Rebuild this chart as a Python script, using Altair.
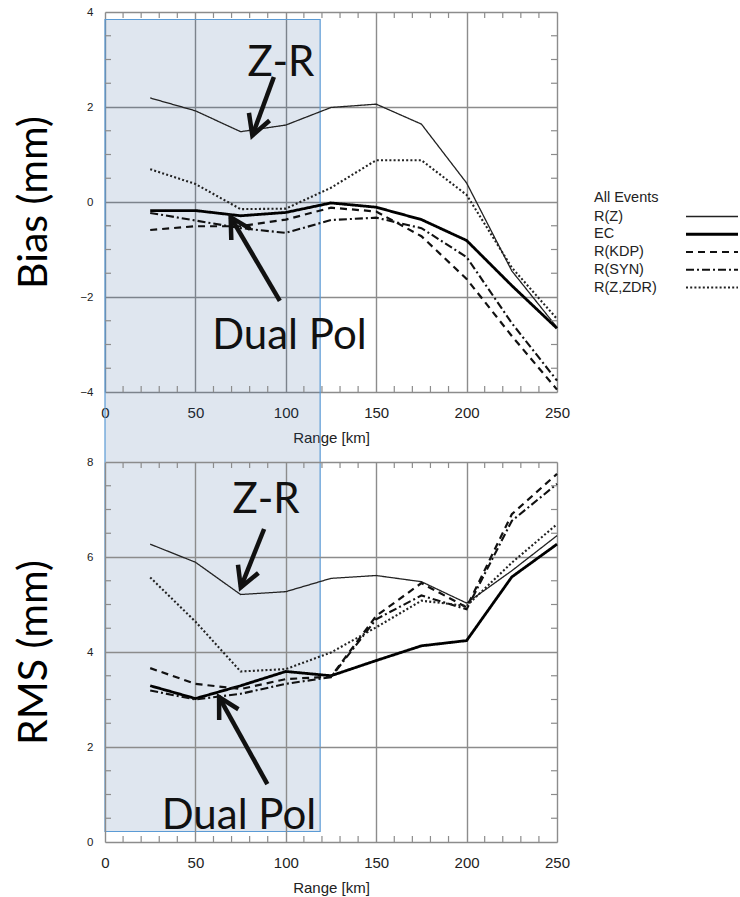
import math
import altair as alt
import pandas as pd

# ---------------- data ----------------
range_km = [25, 50, 75, 100, 125, 150, 175, 200, 225, 250]
series_names = ["R(Z)", "EC", "R(KDP)", "R(SYN)", "R(Z,ZDR)"]

bias_rz = [2.19, 1.92, 1.48, 1.62, 1.99, 2.06, 1.64, 0.40, -1.45, -2.64]
bias_ec = [-0.18, -0.18, -0.29, -0.22, -0.02, -0.11, -0.37, -0.81, -1.76, -2.66]
bias_kdp = [-0.59, -0.51, -0.51, -0.37, -0.12, -0.20, -0.72, -1.62, -2.82, -3.95]
bias_syn = [-0.23, -0.39, -0.55, -0.65, -0.38, -0.33, -0.55, -1.16, -2.55, -3.76]
bias_zdr = [0.69, 0.38, -0.15, -0.14, 0.30, 0.88, 0.88, 0.15, -1.38, -2.46]

rms_rz = [6.27, 5.89, 5.21, 5.27, 5.55, 5.61, 5.48, 5.03, 5.71, 6.45]
rms_ec = [3.29, 3.02, 3.29, 3.59, 3.50, 3.82, 4.13, 4.24, 5.58, 6.27]
rms_kdp = [3.66, 3.33, 3.22, 3.43, 3.48, 4.76, 5.45, 4.94, 6.90, 7.75]
rms_syn = [3.19, 3.00, 3.12, 3.33, 3.47, 4.69, 5.19, 4.90, 6.76, 7.54]
rms_zdr = [5.57, 4.64, 3.59, 3.64, 3.99, 4.52, 5.08, 4.97, 5.88, 6.69]

x_label_values = [0, 50, 100, 150, 200, 250]
x_minor_ticks = [10, 20, 30, 40, 60, 70, 80, 90, 110, 120, 130, 140,
                 160, 170, 180, 190, 210, 220, 230, 240]
bias_label_values = [-4, -2, 0, 2, 4]
bias_minor_ticks = [-3.5, -3, -2.5, -1.5, -1, -0.5, 0.5, 1, 1.5, 2.5, 3, 3.5]
rms_label_values = [0, 2, 4, 6, 8]
rms_minor_ticks = [0.5, 1, 1.5, 2.5, 3, 3.5, 4.5, 5, 5.5, 6.5, 7, 7.5]

shade_range_km = [0, 119]
legend_title = "All Events"

top_note_text = ["Z-R", "Dual Pol"]
top_note_x = [97.3, 102.0]
top_note_y = [2.65, -3.09]
top_arrow_x1 = [93.4, 96.7]
top_arrow_y1 = [2.63, -2.08]
top_arrow_x2 = [81.5, 69.5]
top_arrow_y2 = [1.40, -0.32]

bot_note_text = ["Z-R", "Dual Pol"]
bot_note_x = [89.1, 74.1]
bot_note_y = [6.93, 0.27]
bot_arrow_x1 = [88.0, 89.8]
bot_arrow_y1 = [6.59, 1.22]
bot_arrow_x2 = [75.1, 63.1]
bot_arrow_y2 = [5.36, 3.05]

# ---------------- styling ----------------
W, H = 452, 380
GRID = "#8c8c8c"
INK = "#111111"
ANNOT_FONT = "Lato"
TICK_FONT = "Liberation Sans"

dash_range = [[1, 0], [1, 0], [7, 5], [8, 3, 2, 3], [2, 2.2]]
width_range = [1.3, 2.8, 2.2, 2.1, 2.1]
color_range = ["#222222", "#000000", "#111111", "#111111", "#222222"]

color_scale = alt.Scale(domain=series_names, range=color_range)
dash_scale = alt.Scale(domain=series_names, range=dash_range)
width_scale = alt.Scale(type="ordinal", domain=series_names, range=width_range)


def long_frame(cols):
    rows = []
    for name, vals in zip(series_names, cols):
        for x, v in zip(range_km, vals):
            rows.append({"range": x, "value": v, "series": name})
    return pd.DataFrame(rows)


def arrowhead_angles(x1, y1, x2, y2, yspan):
    out = []
    for a, b, c, d in zip(x1, y1, x2, y2):
        dx = (c - a) * W / 250.0
        dy = -(d - b) * H / yspan
        out.append(math.degrees(math.atan2(dx, -dy)) % 360)
    return out


def style_enc():
    return dict(
        color=alt.Color("series:N", scale=color_scale, legend=None),
        strokeDash=alt.StrokeDash("series:N", scale=dash_scale, legend=None),
        strokeWidth=alt.StrokeWidth("series:O", scale=width_scale, legend=None),
    )


def legend_layer():
    leg = pd.DataFrame({"series": series_names})
    rows_y = alt.Y("series:N", sort=series_names,
                   scale=alt.Scale(type="point", domain=series_names,
                                   range=[204.5, 275.5], padding=0),
                   axis=None)
    labels = alt.Chart(leg).mark_text(
        font=TICK_FONT, fontSize=14.5, align="left", baseline="middle", color="#222"
    ).encode(x=alt.value(489), y=rows_y, text="series:N")
    samples = alt.Chart(leg).mark_rule(strokeCap="butt").encode(
        x=alt.value(581), x2=alt.value(633), y=rows_y, **style_enc())
    title = alt.Chart(pd.DataFrame({"t": [legend_title]})).mark_text(
        font=TICK_FONT, fontSize=14.5, align="left", baseline="middle", color="#222"
    ).encode(x=alt.value(489), y=alt.value(185.5), text="t:N")
    return alt.layer(title, labels, samples)


def panel(cols, ydom, yvals, yminor, ytitle, notes, arrows, with_extras):
    df = long_frame(cols)
    xs = alt.Scale(domain=[0, 250], nice=False, zero=False)
    ys = alt.Scale(domain=ydom, nice=False, zero=False)
    yspan = ydom[1] - ydom[0]

    lines = alt.Chart(df).mark_line(strokeCap="butt").encode(
        x=alt.X("range:Q", scale=xs,
                axis=alt.Axis(values=x_label_values, title="Range [km]", grid=True,
                              ticks=False, tickSize=0, domain=False,
                              labelFlush=False, labelOverlap=False,
                              labelFont=TICK_FONT, labelFontSize=15, labelColor="#222",
                              labelPadding=13, titleFont=TICK_FONT, titleFontSize=15,
                              titleFontWeight="normal", titleColor="#222",
                              titleBaseline="middle", titleY=45,
                              gridColor=GRID, gridWidth=1.4)),
        y=alt.Y("value:Q", scale=ys,
                axis=alt.Axis(values=yvals, title=ytitle, grid=True, ticks=False,
                              tickSize=0, domain=False, labelFlush=False,
                              labelOverlap=False, labelFont=TICK_FONT,
                              labelFontSize=11.5, labelColor="#222", labelPadding=12,
                              titleFont=ANNOT_FONT, titleFontSize=41,
                              titleFontWeight="normal", titleColor="#000",
                              titleX=-71, titleY=H / 2, titleBaseline="middle",
                              titleAngle=270, gridColor=GRID, gridWidth=1.4)),
        detail="series:N",
        **style_enc(),
    )

    xminor = pd.DataFrame({"t": x_minor_ticks})
    yminor_df = pd.DataFrame({"t": yminor})
    tick_col = "#8c8c8c"
    xt_top = alt.Chart(xminor).mark_rule(color=tick_col, strokeWidth=1.2).encode(
        x=alt.X("t:Q", scale=xs), y=alt.value(0), y2=alt.value(6))
    xt_bot = alt.Chart(xminor).mark_rule(color=tick_col, strokeWidth=1.2).encode(
        x=alt.X("t:Q", scale=xs), y=alt.value(H - 6), y2=alt.value(H))
    yt_left = alt.Chart(yminor_df).mark_rule(color=tick_col, strokeWidth=1.2).encode(
        y=alt.Y("t:Q", scale=ys), x=alt.value(0), x2=alt.value(6))
    yt_right = alt.Chart(yminor_df).mark_rule(color=tick_col, strokeWidth=1.2).encode(
        y=alt.Y("t:Q", scale=ys), x=alt.value(W - 6), x2=alt.value(W))

    ntext, nx, ny = notes
    notes_df = pd.DataFrame({"text": ntext, "x": nx, "y": ny})
    texts = alt.Chart(notes_df).mark_text(
        font=ANNOT_FONT, fontSize=42, baseline="alphabetic", align="center", color=INK
    ).encode(x=alt.X("x:Q", scale=xs), y=alt.Y("y:Q", scale=ys), text="text:N")

    ax1, ay1, ax2, ay2 = arrows
    arr_df = pd.DataFrame({"x1": ax1, "y1": ay1, "x2": ax2, "y2": ay2,
                           "angle": arrowhead_angles(ax1, ay1, ax2, ay2, yspan)})
    shafts = alt.Chart(arr_df).mark_rule(color=INK, strokeWidth=4.5).encode(
        x=alt.X("x1:Q", scale=xs), y=alt.Y("y1:Q", scale=ys),
        x2="x2:Q", y2="y2:Q")
    heads = alt.Chart(arr_df).mark_point(
        shape="M-0.55,1L0,0L0.55,1", size=1600, filled=False, color=INK,
        strokeWidth=4.5, opacity=1, strokeJoin="miter"
    ).encode(x=alt.X("x2:Q", scale=xs), y=alt.Y("y2:Q", scale=ys),
             angle=alt.Angle("angle:Q", scale=None))

    layers = [lines, xt_top, xt_bot, yt_left, yt_right, texts, shafts, heads]
    if with_extras:
        shade_df = pd.DataFrame({"a": [shade_range_km[0]], "b": [shade_range_km[1]]})
        shade = alt.Chart(shade_df).mark_rect(
            fill="#1f4e8c", fillOpacity=0.14, stroke="#5b9bd5", strokeWidth=1.2,
            clip=False
        ).encode(x=alt.X("a:Q", scale=xs), x2="b:Q",
                 y=alt.value(7.5), y2=alt.value(819.5))
        layers = [shade] + layers
    main = alt.layer(*layers)
    if with_extras:
        main = alt.layer(main, legend_layer()).resolve_scale(y="independent")
    return main.properties(width=W, height=H)


top = panel([bias_rz, bias_ec, bias_kdp, bias_syn, bias_zdr], [-4, 4],
            bias_label_values, bias_minor_ticks, "Bias (mm)",
            (top_note_text, top_note_x, top_note_y),
            (top_arrow_x1, top_arrow_y1, top_arrow_x2, top_arrow_y2), True)
bottom = panel([rms_rz, rms_ec, rms_kdp, rms_syn, rms_zdr], [0, 8],
               rms_label_values, rms_minor_ticks, "RMS (mm)",
               (bot_note_text, bot_note_x, bot_note_y),
               (bot_arrow_x1, bot_arrow_y1, bot_arrow_x2, bot_arrow_y2), False)

chart = alt.vconcat(top, bottom, spacing=70, bounds="flush").properties(
    padding={"left": 12, "top": 5, "right": 0, "bottom": 0}
).configure_view(
    stroke=GRID, strokeWidth=1.5
).configure(background="white")

chart.save("out.html", embed_options={"renderer": "svg", "actions": False})
